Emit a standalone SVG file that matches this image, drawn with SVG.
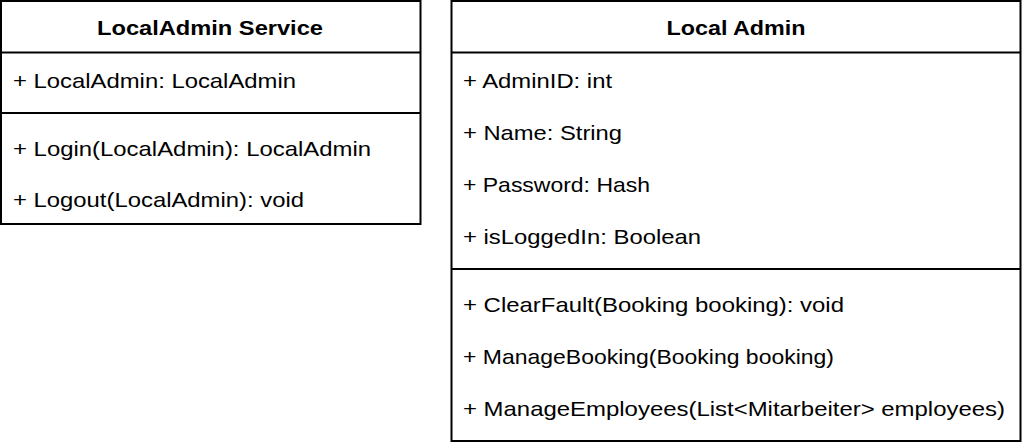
<svg xmlns="http://www.w3.org/2000/svg" width="1022" height="448" viewBox="0 0 1022 448">
  <style>
    .box { fill: #ffffff; stroke: #000000; stroke-width: 2; }
    .sep { stroke: #000000; stroke-width: 2; fill: none; }
    .title { font-family: "Liberation Sans", Arial, sans-serif; font-size: 21px; font-weight: bold; fill: #000000; text-anchor: middle; }
    .member { font-family: "Liberation Sans", Arial, sans-serif; font-size: 21px; fill: #000000; }
  </style>
  <rect width="1022" height="448" fill="#ffffff"/>

  <!-- Service class -->
  <g id="localadmin-service">
    <rect class="box" x="1" y="1" width="419.5" height="223"/>
    <line class="sep" x1="1" y1="52.5" x2="420.5" y2="52.5"/>
    <line class="sep" x1="1" y1="113" x2="420.5" y2="113"/>
    <text class="title" x="210" y="35" textLength="226" lengthAdjust="spacingAndGlyphs">LocalAdmin Service</text>
    <text class="member" x="13" y="88" textLength="283" lengthAdjust="spacingAndGlyphs">+ LocalAdmin: LocalAdmin</text>
    <text class="member" x="13" y="156" textLength="358" lengthAdjust="spacingAndGlyphs">+ Login(LocalAdmin): LocalAdmin</text>
    <text class="member" x="13" y="207" textLength="291" lengthAdjust="spacingAndGlyphs">+ Logout(LocalAdmin): void</text>
  </g>

  <!-- Entity class -->
  <g id="local-admin">
    <rect class="box" x="451.5" y="1" width="569" height="440"/>
    <line class="sep" x1="451.5" y1="52.5" x2="1020.5" y2="52.5"/>
    <line class="sep" x1="451.5" y1="269" x2="1020.5" y2="269"/>
    <text class="title" x="736" y="35" textLength="139" lengthAdjust="spacingAndGlyphs">Local Admin</text>
    <text class="member" x="463" y="88" textLength="149" lengthAdjust="spacingAndGlyphs">+ AdminID: int</text>
    <text class="member" x="463" y="140" textLength="159" lengthAdjust="spacingAndGlyphs">+ Name: String</text>
    <text class="member" x="463" y="192" textLength="187" lengthAdjust="spacingAndGlyphs">+ Password: Hash</text>
    <text class="member" x="463" y="244" textLength="238" lengthAdjust="spacingAndGlyphs">+ isLoggedIn: Boolean</text>
    <text class="member" x="463" y="312" textLength="381" lengthAdjust="spacingAndGlyphs">+ ClearFault(Booking booking): void</text>
    <text class="member" x="463" y="364" textLength="371" lengthAdjust="spacingAndGlyphs">+ ManageBooking(Booking booking)</text>
    <text class="member" x="463" y="416" textLength="542" lengthAdjust="spacingAndGlyphs">+ ManageEmployees(List&lt;Mitarbeiter&gt; employees)</text>
  </g>

  <!-- no connectors between the two classes -->
  <g id="connectors"/>
</svg>
